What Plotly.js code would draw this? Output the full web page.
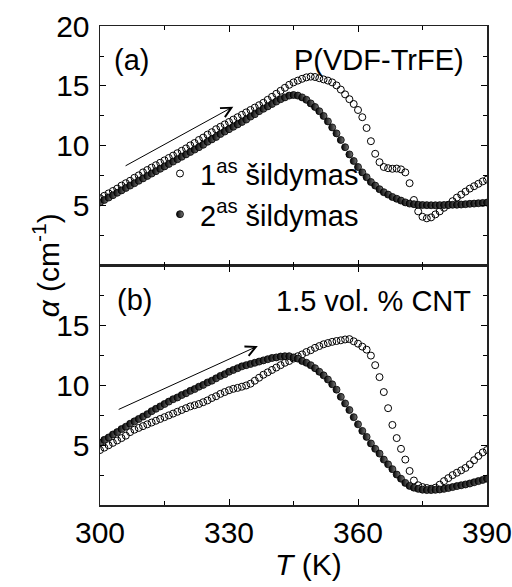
<!DOCTYPE html>
<html>
<head>
<meta charset="utf-8">
<script src="https://cdn.plot.ly/plotly-3.0.1.min.js"></script>
<style>html,body{margin:0;padding:0;background:#fff;}#chart{width:512px;height:587px;}</style>
</head>
<body>
<div id="chart"></div>
<script>
// Temperature (K)
const T = [300,301,302,303,304,305,306,307,308,309,310,311,312,313,314,315,316,317,318,319,
  320,321,322,323,324,325,326,327,328,329,330,331,332,333,334,335,336,337,338,339,
  340,341,342,343,344,345,346,347,348,349,350,351,352,353,354,355,356,357,358,359,
  360,361,362,363,364,365,366,367,368,369,370,371,372,373,374,375,376,377,378,379,
  380,381,382,383,384,385,386,387,388,389,390];

// (a) P(VDF-TrFE): 1st heating (open)
const a1 = [5.65,5.85,6.05,6.25,6.45,6.7,6.9,7.1,7.35,7.55,7.8,8.0,8.2,8.4,8.6,8.8,9.0,9.2,9.4,9.6,
  9.8,10.05,10.25,10.5,10.7,10.95,11.15,11.4,11.6,11.8,12.0,12.2,12.4,12.6,12.8,13.0,13.2,13.4,13.6,13.85,
  14.1,14.35,14.6,14.85,15.1,15.3,15.45,15.6,15.72,15.78,15.75,15.65,15.55,15.45,15.3,15.05,14.7,14.3,13.9,13.5,
  13.0,12.4,11.5,10.4,9.35,8.65,8.25,8.15,8.1,8.12,8.05,7.8,6.9,5.5,4.55,4.1,3.97,4.05,4.3,4.55,
  4.85,5.1,5.4,5.7,5.95,6.2,6.45,6.65,6.85,7.05,7.2];
// (a) 2nd heating (half-filled)
const a2 = [5.3,5.5,5.7,5.9,6.1,6.3,6.5,6.7,6.9,7.1,7.3,7.5,7.7,7.9,8.1,8.3,8.5,8.7,8.9,9.1,
  9.3,9.5,9.7,9.9,10.1,10.35,10.55,10.75,11.0,11.2,11.4,11.6,11.8,12.0,12.2,12.45,12.65,12.9,13.1,13.3,
  13.5,13.7,13.9,14.05,14.2,14.25,14.2,14.05,13.85,13.55,13.25,12.9,12.5,12.05,11.55,11.05,10.5,9.9,9.3,8.75,
  8.25,7.8,7.4,7.0,6.7,6.4,6.15,5.95,5.75,5.6,5.45,5.3,5.2,5.15,5.1,5.08,5.07,5.06,5.06,5.07,
  5.08,5.08,5.1,5.1,5.12,5.15,5.18,5.2,5.23,5.25,5.28];

// (b) 1.5 vol.% CNT: 1st heating (open)
const b1 = [4.6,4.8,5.0,5.2,5.4,5.6,5.8,6.1,6.3,6.45,6.6,6.75,6.9,7.05,7.2,7.35,7.5,7.65,7.8,7.95,
  8.1,8.25,8.35,8.45,8.6,8.75,8.95,9.1,9.3,9.45,9.6,9.72,9.8,9.9,10.0,10.15,10.4,10.65,10.9,11.1,
  11.3,11.5,11.7,11.9,12.05,12.25,12.45,12.6,12.8,12.95,13.15,13.3,13.45,13.55,13.65,13.72,13.78,13.85,13.88,13.7,
  13.5,13.25,13.0,12.5,11.7,10.7,9.45,8.1,6.7,5.6,4.7,3.8,2.85,2.05,1.65,1.5,1.42,1.36,1.45,1.7,
  2.0,2.25,2.5,2.7,2.9,3.1,3.4,3.75,4.1,4.4,4.6];
// (b) 2nd heating (half-filled)
const b2 = [5.2,5.45,5.65,5.9,6.1,6.35,6.55,6.8,7.0,7.2,7.4,7.6,7.85,8.05,8.25,8.45,8.65,8.85,9.0,9.2,
  9.35,9.55,9.7,9.9,10.05,10.25,10.4,10.6,10.8,10.95,11.15,11.3,11.45,11.6,11.7,11.8,11.9,12.0,12.1,12.2,
  12.3,12.35,12.42,12.45,12.45,12.35,12.25,12.05,11.9,11.7,11.45,11.15,10.85,10.5,10.1,9.65,9.05,8.5,7.95,7.35,
  6.75,6.2,5.7,5.15,4.7,4.3,3.8,3.4,3.0,2.55,2.2,1.85,1.6,1.45,1.35,1.28,1.25,1.25,1.27,1.3,
  1.35,1.42,1.5,1.58,1.65,1.72,1.8,1.9,2.0,2.1,2.2];

const xTicks = [300, 330, 360, 390];
const yTicksTop = [5, 10, 15, 20];
const yTicksBottom = [5, 10, 15];
const seriesNames = ['1<sup>as</sup> šildymas', '2<sup>as</sup> šildymas'];
const panelLabels = ['(a)', '(b)'];
const sampleLabels = ['P(VDF-TrFE)', '1.5 vol. % CNT'];

const FONT = '"Liberation Sans", Arial, sans-serif';
const FS = 30;
const FA = 29;
const openMarker = {symbol: 'circle-open', size: 7, color: '#000', line: {width: 1, color: '#000'}};
const halfMarker = {symbol: 'circle', size: 7, color: '#000', line: {width: 0.8, color: '#000'},
  gradient: {type: 'horizontal', color: '#7a7a7a'}};

const traces = [
  {x: T, y: a1, xaxis: 'x2', yaxis: 'y2', mode: 'markers', name: seriesNames[0], marker: openMarker, showlegend: true},
  {x: T, y: a2, xaxis: 'x2', yaxis: 'y2', mode: 'markers', name: seriesNames[1], marker: halfMarker, showlegend: true},
  {x: T, y: b1, xaxis: 'x', yaxis: 'y', mode: 'markers', name: seriesNames[0], marker: openMarker, showlegend: false},
  {x: T, y: b2, xaxis: 'x', yaxis: 'y', mode: 'markers', name: seriesNames[1], marker: halfMarker, showlegend: false}
];

const axisCommon = {
  showline: true, linecolor: '#222', linewidth: 1.5, mirror: 'ticks',
  ticks: 'inside', ticklen: 6, tickwidth: 1, tickcolor: '#000',
  showgrid: false, zeroline: false, ticklabeloverflow: 'allow',
  tickfont: {family: FONT, size: FS, color: '#000'}
};

const layout = {
  width: 512, height: 587,
  margin: {l: 100, r: 25, t: 26, b: 82},
  paper_bgcolor: '#fff', plot_bgcolor: '#fff',
  font: {family: FONT, color: '#000'},
  xaxis: Object.assign({}, axisCommon, {domain: [0, 1], anchor: 'y', range: [300, 390], tickvals: xTicks,
    minor: {ticks: 'inside', ticklen: 4, dtick: 15, tick0: 300, tickcolor: '#000', tickwidth: 1}}),
  xaxis2: Object.assign({}, axisCommon, {domain: [0, 1], anchor: 'y2', matches: 'x', range: [300, 390], tickvals: xTicks,
    showticklabels: false,
    minor: {ticks: 'inside', ticklen: 4, dtick: 15, tick0: 300, tickcolor: '#000', tickwidth: 1}}),
  yaxis: Object.assign({}, axisCommon, {domain: [0, 0.499], anchor: 'x', range: [0, 20], tickvals: yTicksBottom,
    ticklabelstandoff: 3,
    minor: {ticks: 'inside', ticklen: 4, dtick: 2.5, tick0: 0, tickcolor: '#000', tickwidth: 1}}),
  yaxis2: Object.assign({}, axisCommon, {domain: [0.499, 1], anchor: 'x2', range: [0, 20], tickvals: yTicksTop,
    ticklabelstandoff: 3,
    minor: {ticks: 'inside', ticklen: 4, dtick: 2.5, tick0: 0, tickcolor: '#000', tickwidth: 1}}),
  showlegend: true,
  legend: {x: 0.155, y: 0.745, xanchor: 'left', yanchor: 'top', bgcolor: 'rgba(0,0,0,0)',
    font: {family: FONT, size: FA, color: '#000'}, itemwidth: 30, tracegroupgap: 0},
  annotations: [
    {xref: 'x2', yref: 'y2', x: 307.4, y: 17.17, text: panelLabels[0], showarrow: false,
      xanchor: 'center', yanchor: 'middle', font: {family: FONT, size: FA}},
    {xref: 'x2', yref: 'y2', x: 385.2, y: 17.17, text: sampleLabels[0], showarrow: false,
      xanchor: 'right', yanchor: 'middle', font: {family: FONT, size: FA}},
    {xref: 'x', yref: 'y', x: 308.0, y: 17.17, text: panelLabels[1], showarrow: false,
      xanchor: 'center', yanchor: 'middle', font: {family: FONT, size: FA}},
    {xref: 'x', yref: 'y', x: 386.7, y: 17.08, text: sampleLabels[1], showarrow: false,
      xanchor: 'right', yanchor: 'middle', font: {family: FONT, size: FA}},
    // heating direction arrows
    {xref: 'x2', yref: 'y2', axref: 'x2', ayref: 'y2', x: 331.0, y: 13.28, ax: 305.6, ay: 8.28,
      text: '', showarrow: true, arrowhead: 5, arrowsize: 2, arrowwidth: 1, arrowcolor: '#000'},
    {xref: 'x', yref: 'y', axref: 'x', ayref: 'y', x: 336.7, y: 13.3, ax: 304.0, ay: 7.94,
      text: '', showarrow: true, arrowhead: 5, arrowsize: 2, arrowwidth: 1, arrowcolor: '#000'},
    // axis titles
    {xref: 'paper', yref: 'paper', x: 0.54, y: -0.125, text: '<i>T</i> (K)', showarrow: false,
      xanchor: 'center', yanchor: 'middle', font: {family: FONT, size: FS}},
    {xref: 'paper', yref: 'paper', x: -0.14, y: 0.5, text: '<i>α</i> (cm<sup>-1</sup>)', showarrow: false,
      textangle: -90, xanchor: 'center', yanchor: 'middle', font: {family: FONT, size: FS}}
  ]
};

Plotly.newPlot('chart', traces, layout, {displayModeBar: false, staticPlot: true});
</script>
</body>
</html>
